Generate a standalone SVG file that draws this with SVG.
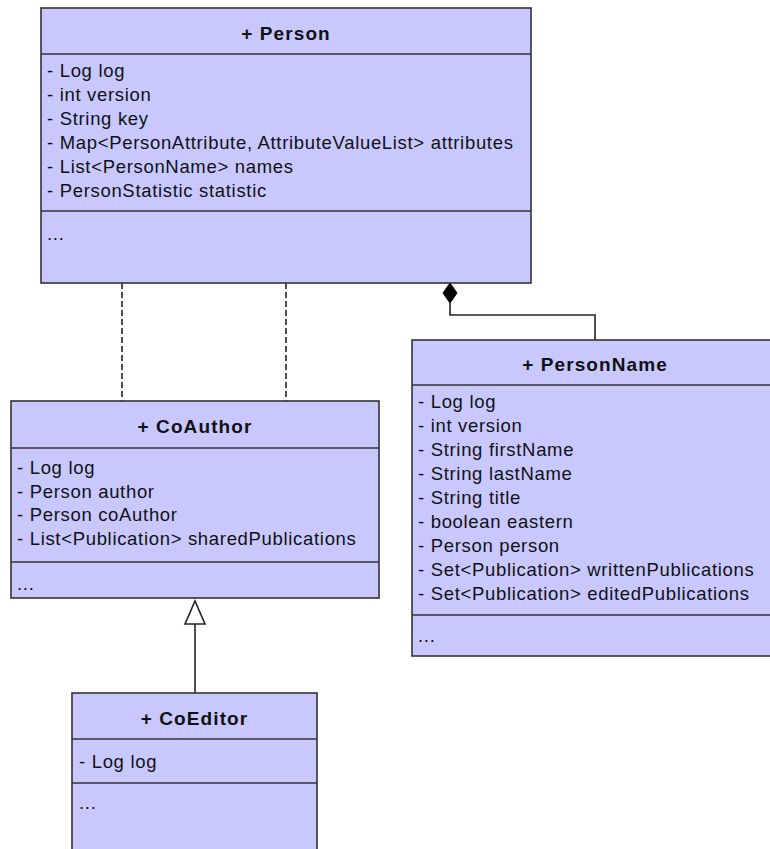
<svg xmlns="http://www.w3.org/2000/svg" width="770" height="849" viewBox="0 0 770 849">
<style>
.box{fill:#c8c8ff;stroke:#333;stroke-width:1.6}
.sep{stroke:#333;stroke-width:1.6}
.t{font-family:"Liberation Sans",Arial,sans-serif;font-size:18.5px;letter-spacing:0.68px;fill:#111}
.h{font-family:"Liberation Sans",Arial,sans-serif;font-size:19px;font-weight:bold;letter-spacing:1.1px;fill:#111;text-anchor:middle}
.ln{fill:none;stroke:#222;stroke-width:1.6}
.dash{stroke-dasharray:6 3}
</style>
<rect width="770" height="849" fill="#fff"/>
<g id="connectors">
<line class="ln dash" x1="122" y1="283" x2="122" y2="401"/>
<line class="ln dash" x1="286" y1="283" x2="286" y2="401"/>
<polyline class="ln" points="450,303 450,315 595,315 595,340"/>
<polygon points="450,283 457,293 450,303 443,293" fill="#000" stroke="#000" stroke-width="1"/>
<line class="ln" x1="195" y1="624" x2="195" y2="693"/>
<polygon points="195,601 205,624 185,624" fill="#fff" stroke="#222" stroke-width="1.6"/>
</g>
<g id="Person">
<rect class="box" x="41" y="8" width="490" height="275"/>
<line class="sep" x1="41" y1="54" x2="531" y2="54"/>
<line class="sep" x1="41" y1="211" x2="531" y2="211"/>
<text class="h" x="286" y="40">+ Person</text>
<text class="t" x="47" y="77">- Log log</text>
<text class="t" x="47" y="101">- int version</text>
<text class="t" x="47" y="125">- String key</text>
<text class="t" x="47" y="149">- Map&lt;PersonAttribute, AttributeValueList&gt; attributes</text>
<text class="t" x="47" y="173">- List&lt;PersonName&gt; names</text>
<text class="t" x="47" y="197">- PersonStatistic statistic</text>
<text class="t" x="47" y="240">...</text>
</g>
<g id="CoAuthor">
<rect class="box" x="11" y="401" width="368" height="197"/>
<line class="sep" x1="11" y1="448" x2="379" y2="448"/>
<line class="sep" x1="11" y1="562" x2="379" y2="562"/>
<text class="h" x="195" y="433">+ CoAuthor</text>
<text class="t" x="17" y="474">- Log log</text>
<text class="t" x="17" y="498">- Person author</text>
<text class="t" x="17" y="521">- Person coAuthor</text>
<text class="t" x="17" y="545">- List&lt;Publication&gt; sharedPublications</text>
<text class="t" x="17" y="590">...</text>
</g>
<g id="PersonName">
<rect class="box" x="412" y="340" width="366" height="316"/>
<line class="sep" x1="412" y1="385" x2="778" y2="385"/>
<line class="sep" x1="412" y1="615" x2="778" y2="615"/>
<text class="h" x="595" y="371">+ PersonName</text>
<text class="t" x="418" y="408">- Log log</text>
<text class="t" x="418" y="432">- int version</text>
<text class="t" x="418" y="456">- String firstName</text>
<text class="t" x="418" y="480">- String lastName</text>
<text class="t" x="418" y="504">- String title</text>
<text class="t" x="418" y="528">- boolean eastern</text>
<text class="t" x="418" y="552">- Person person</text>
<text class="t" x="418" y="576">- Set&lt;Publication&gt; writtenPublications</text>
<text class="t" x="418" y="600">- Set&lt;Publication&gt; editedPublications</text>
<text class="t" x="418" y="642">...</text>
</g>
<g id="CoEditor">
<rect class="box" x="72" y="693" width="245" height="170"/>
<line class="sep" x1="72" y1="739" x2="317" y2="739"/>
<line class="sep" x1="72" y1="783" x2="317" y2="783"/>
<text class="h" x="194.5" y="725">+ CoEditor</text>
<text class="t" x="79" y="768">- Log log</text>
<text class="t" x="79" y="809">...</text>
</g>
</svg>
